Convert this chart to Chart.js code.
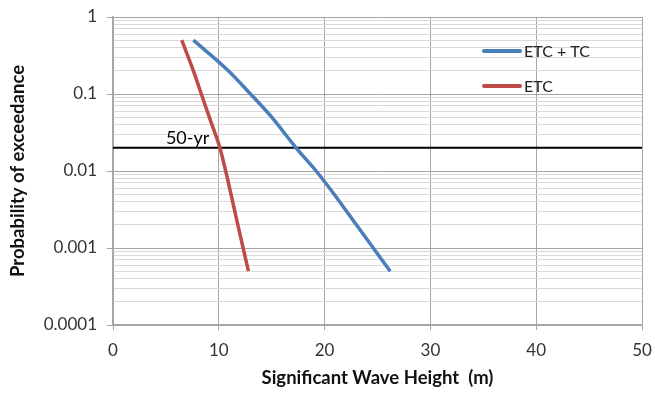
<!DOCTYPE html>
<html>
<head>
<meta charset="utf-8">
<script src="https://cdn.jsdelivr.net/npm/chart.js@4/dist/chart.umd.min.js"></script>
<style>
  html, body { margin: 0; padding: 0; background: #fff; }
  #wrap { width: 655px; height: 393px; }
</style>
</head>
<body>
<div id="wrap"><canvas id="chart" width="655" height="393"></canvas></div>
<script>
// exceedance probabilities
const probLevels = [0.5, 0.2, 0.1, 0.05, 0.02, 0.01, 0.005, 0.002, 0.001, 0.0005];
// significant wave height (m) at each probability
const hsEtcTc = [7.6, 10.9, 13.0, 15.0, 17.3, 19.2, 20.9, 23.0, 24.6, 26.2];
const hsEtc = [6.5, 7.6, 8.35, 9.1, 10.1, 10.65, 11.15, 11.8, 12.3, 12.8];

const seriesNames = ['ETC + TC', 'ETC'];
const returnLevel = 0.02;
const returnLabel = '50-yr';
const xTicks = [0, 10, 20, 30, 40, 50];
const yDecades = [0.0001, 0.001, 0.01, 0.1, 1];

const FONT = 'Lato, "Open Sans", sans-serif';
const isDecade = v => yDecades.some(d => Math.abs(v - d) / d < 1e-6);

function toPoints(xs) {
    return xs.map((x, i) => ({ x: x, y: probLevels[i] }));
}

const returnLine = [
    { x: xTicks[0], y: returnLevel },
    { x: xTicks[xTicks.length - 1], y: returnLevel }
];

// legend drawn inside the plot, top right
const insideLegend = {
    id: 'insideLegend',
    afterDatasetsDraw(chart) {
        const { ctx, chartArea } = chart;
        const x0 = chartArea.right - 160;
        const rows = [chartArea.top + 34, chartArea.top + 69];
        ctx.save();
        ctx.font = '16px ' + FONT;
        ctx.textBaseline = 'middle';
        ctx.lineCap = 'round';
        seriesNames.forEach((name, i) => {
            const ds = chart.data.datasets[i];
            ctx.strokeStyle = ds.borderColor;
            ctx.lineWidth = 4;
            ctx.beginPath();
            ctx.moveTo(x0 + 2, rows[i]);
            ctx.lineTo(x0 + 38, rows[i]);
            ctx.stroke();
            ctx.fillStyle = '#222';
            ctx.fillText(name, x0 + 42, rows[i] + 1);
        });
        ctx.restore();
    }
};

const returnText = {
    id: 'returnText',
    afterDatasetsDraw(chart) {
        const { ctx, scales } = chart;
        ctx.save();
        ctx.font = '18px ' + FONT;
        ctx.fillStyle = '#000';
        ctx.textBaseline = 'alphabetic';
        ctx.fillText(returnLabel, scales.x.getPixelForValue(5), scales.y.getPixelForValue(returnLevel) - 4);
        ctx.restore();
    }
};

const ctx = document.getElementById('chart').getContext('2d');
const chart = new Chart(ctx, {
    type: 'line',
    data: {
        datasets: [
            {
                label: seriesNames[0],
                data: toPoints(hsEtcTc),
                borderColor: '#4a7ebb',
                borderWidth: 3.5,
                pointRadius: 0,
                cubicInterpolationMode: 'monotone'
            },
            {
                label: seriesNames[1],
                data: toPoints(hsEtc),
                borderColor: '#be4b48',
                borderWidth: 3.5,
                pointRadius: 0,
                cubicInterpolationMode: 'monotone'
            },
            {
                label: returnLabel,
                data: returnLine,
                borderColor: '#000',
                borderWidth: 2,
                pointRadius: 0
            }
        ]
    },
    options: {
        responsive: false,
        animation: false,
        layout: { padding: { left: 7, top: 17, right: 13, bottom: 4 } },
        plugins: {
            legend: { display: false },
            tooltip: { enabled: false }
        },
        scales: {
            x: {
                type: 'linear',
                min: 0,
                max: 50,
                afterBuildTicks: scale => {
                    scale.ticks = xTicks.map(v => ({ value: v }));
                },
                afterFit: scale => {
                    scale.height = 393 - 325 - 4;
                    scale.paddingLeft = 0;
                    scale.paddingRight = 0;
                },
                grid: {
                    color: '#a6a6a6',
                    lineWidth: 1,
                    tickLength: 5,
                    tickColor: '#a6a6a6'
                },
                border: { color: '#a6a6a6', width: 1.5 },
                ticks: {
                    padding: 10,
                    color: '#333',
                    font: { family: FONT, size: 17 }
                },
                title: {
                    display: true,
                    text: 'Significant Wave Height  (m)',
                    color: '#111',
                    padding: 0,
                    font: { family: FONT, size: 18.5, weight: 'bold' }
                }
            },
            y: {
                type: 'logarithmic',
                min: 0.0001,
                max: 1,
                afterBuildTicks: scale => {
                    const t = [];
                    yDecades.forEach((d, i) => {
                        t.push({ value: d });
                        if (i < yDecades.length - 1) {
                            for (let m = 2; m <= 9; m++) t.push({ value: d * m });
                        }
                    });
                    scale.ticks = t;
                },
                afterFit: scale => {
                    scale.width = 113 - 7;
                    scale.paddingTop = 0;
                    scale.paddingBottom = 0;
                },
                grid: {
                    color: c => isDecade(c.tick.value) ? '#a6a6a6' : '#d9d9d9',
                    tickColor: c => isDecade(c.tick.value) ? '#a6a6a6' : 'rgba(0,0,0,0)',
                    lineWidth: 1,
                    tickLength: 6
                },
                border: { color: '#a6a6a6', width: 1.5 },
                ticks: {
                    autoSkip: false,
                    padding: 10,
                    color: '#333',
                    font: { family: FONT, size: 17 },
                    callback: v => isDecade(v) ? String(v) : ''
                },
                title: {
                    display: true,
                    text: 'Probability of exceedance',
                    color: '#111',
                    padding: 0,
                    font: { family: FONT, size: 18.5, weight: 'bold' }
                }
            }
        }
    },
    plugins: [insideLegend, returnText]
});
</script>
</body>
</html>
